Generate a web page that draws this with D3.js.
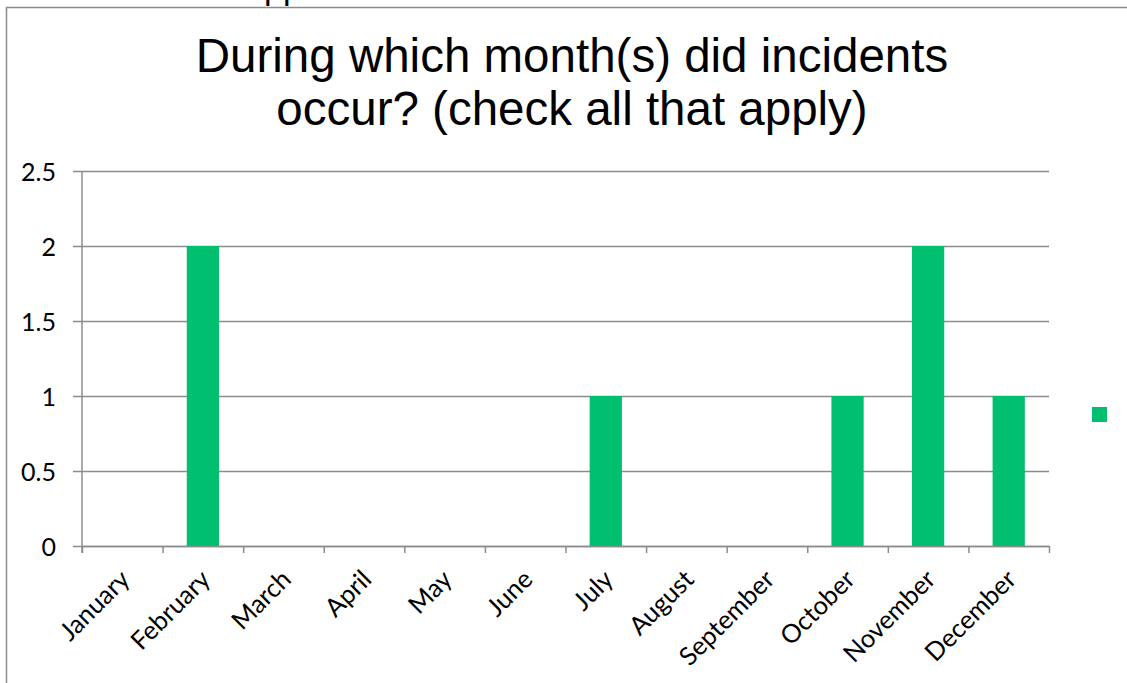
<!DOCTYPE html>
<html>
<head>
<meta charset="utf-8">
<script src="https://cdn.jsdelivr.net/npm/d3@7"></script>
<style>
  body { margin: 0; background: #fff; }
  svg { display: block; }
</style>
</head>
<body>
<svg width="1127" height="683"></svg>
<script>
const months = ['January', 'February', 'March', 'April', 'May', 'June',
  'July', 'August', 'September', 'October', 'November', 'December'];
const counts = [0, 2, 0, 0, 0, 0, 1, 0, 0, 1, 2, 1];
const yTicks = [0, 0.5, 1, 1.5, 2, 2.5];
const yTickLabels = ['0', '0.5', '1', '1.5', '2', '2.5'];
const titleLines = ['During which month(s) did incidents', 'occur? (check all that apply)'];
const seriesNames = [''];

const plotLeft = 82, plotRight = 1049, plotTop = 171, plotBottom = 546;
const green = '#00bf6f';
const grey = '#8c8c8c';
const labelFont = 'Lato, "Open Sans", sans-serif';

const svg = d3.select('svg');

// frame of the chart, cut by the window on the right and bottom
svg.append('rect')
  .attr('x', 6.5)
  .attr('y', 7.5)
  .attr('width', 1300)
  .attr('height', 900)
  .attr('fill', 'none')
  .attr('stroke', grey)
  .attr('stroke-width', 1.5);

// cut-off text above the frame
svg.append('text')
  .attr('x', 264)
  .attr('y', -1)
  .attr('font-family', '"Liberation Sans", Arial, sans-serif')
  .attr('font-size', 34)
  .attr('fill', '#000')
  .text('pp');

// title
svg.append('text')
  .attr('text-anchor', 'middle')
  .attr('font-family', '"Liberation Sans", Arial, sans-serif')
  .attr('font-size', 47.5)
  .attr('fill', '#000')
  .selectAll('tspan')
  .data(titleLines)
  .enter()
  .append('tspan')
  .attr('x', 572)
  .attr('y', (d, i) => 72 + i * 53)
  .text(d => d);

// scales
const yScale = d3.scaleLinear()
  .domain([0, 2.5])
  .range([plotBottom, plotTop]);

const xScale = d3.scaleBand()
  .domain(months)
  .range([plotLeft, plotRight])
  .paddingInner(0.6)
  .paddingOuter(0.3);

const xEdges = d3.scaleLinear()
  .domain([0, months.length])
  .range([plotLeft, plotRight]);

// gridlines + y ticks
const yAxis = svg.append('g')
  .attr('transform', `translate(${plotLeft}, 0)`)
  .call(d3.axisLeft(yScale)
    .tickValues(yTicks)
    .tickSize(9)
    .tickFormat((d, i) => yTickLabels[i]));

yAxis.select('.domain').remove();
yAxis.selectAll('.tick line')
  .attr('x2', plotRight - plotLeft)
  .attr('x1', -9)
  .attr('stroke', grey)
  .attr('stroke-width', 1.5);
yAxis.selectAll('.tick text')
  .attr('x', -26)
  .attr('dy', '0.36em')
  .attr('font-family', labelFont)
  .attr('font-size', 25)
  .attr('fill', '#000');

// vertical axis line
svg.append('line')
  .attr('x1', plotLeft)
  .attr('x2', plotLeft)
  .attr('y1', plotTop)
  .attr('y2', plotBottom + 7)
  .attr('stroke', grey)
  .attr('stroke-width', 1.5);

// bars
svg.append('g')
  .selectAll('rect')
  .data(counts)
  .enter()
  .append('rect')
  .attr('x', (d, i) => xScale(months[i]))
  .attr('y', d => yScale(d))
  .attr('width', xScale.bandwidth())
  .attr('height', d => plotBottom - yScale(d))
  .attr('fill', green);

// x axis: ticks between categories
const xAxis = svg.append('g')
  .attr('transform', `translate(0, ${plotBottom})`)
  .call(d3.axisBottom(xEdges)
    .tickValues(d3.range(months.length + 1))
    .tickSize(7)
    .tickSizeOuter(0)
    .tickFormat(''));

xAxis.select('.domain')
  .attr('stroke', grey)
  .attr('stroke-width', 1.5);
xAxis.selectAll('.tick line')
  .attr('stroke', grey)
  .attr('stroke-width', 1.5);

// month labels, rotated
svg.append('g')
  .selectAll('text')
  .data(months)
  .enter()
  .append('text')
  .attr('transform', d => `translate(${xScale(d) + xScale.bandwidth() / 2 + 9}, 581) rotate(-45)`)
  .attr('text-anchor', 'end')
  .attr('font-family', labelFont)
  .attr('font-size', 25.5)
  .attr('fill', '#000')
  .text(d => d);

// legend (series has no name)
const legend = svg.append('g')
  .selectAll('g')
  .data(seriesNames)
  .enter()
  .append('g')
  .attr('transform', (d, i) => `translate(1092, ${407 + i * 24})`);

legend.append('rect')
  .attr('width', 15)
  .attr('height', 15)
  .attr('fill', green);

legend.append('text')
  .attr('x', 20)
  .attr('y', 12)
  .attr('font-family', labelFont)
  .attr('font-size', 22)
  .text(d => d);
</script>
</body>
</html>
